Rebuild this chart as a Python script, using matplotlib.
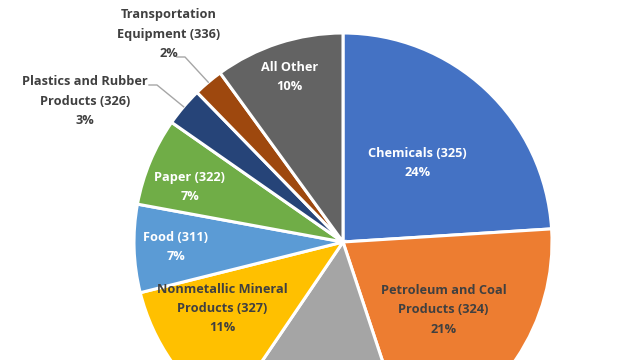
import numpy as np
import matplotlib
matplotlib.use("Agg")
import matplotlib.pyplot as plt

categories = ["Chemicals (325)", "Petroleum and Coal\nProducts (324)", "Primary Metals (331)",
              "Nonmetallic Mineral\nProducts (327)", "Food (311)", "Paper (322)",
              "Plastics and Rubber\nProducts (326)", "Transportation\nEquipment (336)", "All Other"]
values = [24.0, 20.9, 14.6, 11.6, 6.8, 6.8, 3.0, 2.3, 10.0]
pct_labels = ["24%", "21%", "15%", "11%", "7%", "7%", "3%", "2%", "10%"]
colors = ["#4472C4", "#ED7D31", "#A5A5A5", "#FFC000", "#5B9BD5", "#70AD47",
          "#264478", "#9E480E", "#636363"]
label_colors = ["white", "#404040", "#404040", "#404040", "white", "white",
                "#404040", "#404040", "white"]
label_r = [0.52, 0.58, 0.6, 0.66, 0.80, 0.78, None, None, 0.83]
label_dang = [0, 0, 0, -6, 0, 3, 0, 0, 0]

fig = plt.figure(figsize=(6.4, 3.6), dpi=100)
ax = fig.add_axes([0, 0, 1, 1])
R = 209.0
cx, cy = 343.0, 242.0

wedges, _ = ax.pie(values, colors=colors, startangle=90, counterclock=False,
                   radius=1.0, wedgeprops=dict(edgecolor="white", linewidth=2.2))
ax.set_xlim(-cx / R, (640 - cx) / R)
ax.set_ylim(-(360 - cy) / R, cy / R)
ax.set_aspect("equal")
ax.axis("off")

font = dict(family=["Open Sans", "DejaVu Sans"], fontweight="bold", fontsize=9.2)
LS = 1.62

for i, w in enumerate(wedges):
    if label_r[i] is None or i == 2:
        continue
    mid = np.deg2rad((w.theta1 + w.theta2) / 2 + label_dang[i])
    r = label_r[i]
    ax.text(r * np.cos(mid), r * np.sin(mid), categories[i] + "\n" + pct_labels[i],
            ha="center", va="center", color=label_colors[i], linespacing=LS, **font)

# outside labels with leader lines (pixel positions of label centres / leader starts)
out = {6: ((85, 101), (149, 85)), 7: ((169, 34), (177, 57))}
for i, ((lx, ly), (sx, sy)) in out.items():
    w = wedges[i]
    mid = np.deg2rad((w.theta1 + w.theta2) / 2)
    px, py = 1.0 * np.cos(mid), 1.0 * np.sin(mid)
    tx, ty = (lx - cx) / R, (cy - ly) / R
    ax.text(tx, ty, categories[i] + "\n" + pct_labels[i], ha="center", va="center",
            color=label_colors[i], linespacing=LS, **font)
    x0, y0 = (sx - cx) / R, (cy - sy) / R
    ax.plot([x0, x0 + 8 / R, px], [y0, y0, py], color="#A6A6A6", lw=1.0)

fig.savefig("out.png", dpi=100)
